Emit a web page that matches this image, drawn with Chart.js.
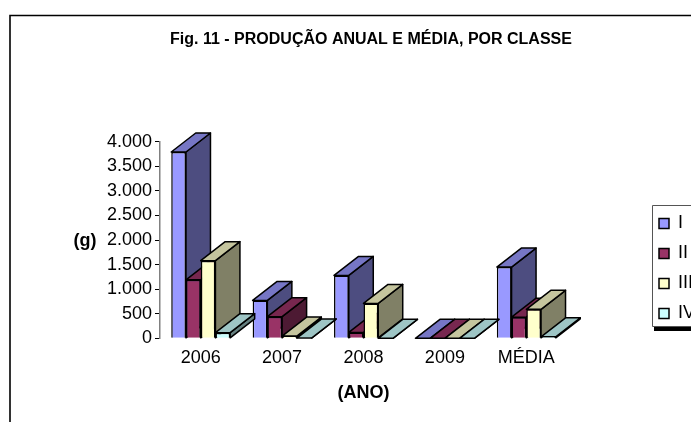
<!DOCTYPE html>
<html><head><meta charset="utf-8">
<style>html,body{margin:0;padding:0;background:#fff;overflow:hidden}canvas{display:block}</style>
<script src="https://cdn.jsdelivr.net/npm/chart.js@4"></script>
</head><body><canvas id="c" width="691" height="422"></canvas>
<script>
const categories = ['2006','2007','2008','2009','MÉDIA'];
const classI   = [3790, 770, 1280, 0, 1450];
const classII  = [1190, 440, 120, 0, 430];
const classIII = [1580, 45, 710, 0, 590];
const classIV  = [115, 5, 0, 0, 30];
const seriesNames = ['I','II','III','IV'];
const frontColors = ['#9999FF','#993366','#FFFFCC','#CCFFFF'];
const topColors   = ['#7676C5','#77274F','#C5C59E','#9EC5C5'];
const sideColors  = ['#4D4D80','#4D1A33','#808066','#668080'];
const titleText = 'Fig. 11 - PRODUÇÃO ANUAL E MÉDIA, POR CLASSE';
const xTitleText = '(ANO)';
const yTitleText = '(g)';
const FONT = '"Liberation Sans", Arial, sans-serif';
const DX = 24.5, DY = 19;

const poly = (ctx, pts, fill) => {
  ctx.beginPath();
  pts.forEach((p,i)=> i?ctx.lineTo(p[0],p[1]):ctx.moveTo(p[0],p[1]));
  ctx.closePath();
  ctx.fillStyle = fill; ctx.fill();
  ctx.strokeStyle = '#000'; ctx.lineWidth = 1.5; ctx.lineJoin='round'; ctx.stroke();
};

const chrome = {
  id:'chrome',
  afterLayout(chart){
    const t = chart.titleBlock;
    t.left = 51; t.right = 691;
    const l = chart.legend;
    l.left = 647; l.right = 700; l.top = 202.5; l.bottom = 350;
  },
  beforeDraw(chart){
    const ctx = chart.ctx;
    ctx.save();
    ctx.fillStyle='#fff'; ctx.fillRect(0,0,691,422);
    ctx.strokeStyle='#000'; ctx.lineWidth=1.6;
    ctx.beginPath(); ctx.moveTo(10,422); ctx.lineTo(10,15.5); ctx.lineTo(691,15.5); ctx.stroke();
    ctx.fillStyle='#000'; ctx.fillRect(654,327,37,4);
    ctx.strokeStyle='#555'; ctx.lineWidth=1;
    ctx.fillStyle='#fff'; ctx.fillRect(652,205.5,39,121);
    ctx.beginPath(); ctx.moveTo(691,205.5); ctx.lineTo(652.5,205.5); ctx.lineTo(652.5,326.5); ctx.lineTo(691,326.5); ctx.stroke();
    ctx.fillStyle='#000'; ctx.font='bold 18px '+FONT; ctx.textAlign='center'; ctx.textBaseline='middle';
    ctx.fillText(yTitleText,85,241);
    ctx.restore();
  },
  beforeDatasetsDraw(chart){
    const ctx = chart.ctx;
    chart.data.datasets.forEach((ds,index)=>{
      const meta = chart.getDatasetMeta(index);
      ctx.save();
      meta.data.forEach(b=>{
        const {x,y,base,width} = b.getProps(['x','y','base','width'],true);
        const L=x-width/2, R=x+width/2;
        poly(ctx,[[R,y],[R+DX,y-DY],[R+DX,base-DY],[R,base]],sideColors[index]);
        poly(ctx,[[L,y],[L+DX,y-DY],[R+DX,y-DY],[R,y]],topColors[index]);
        b.draw(ctx);
      });
      ctx.restore();
    });
    return false;
  }
};

new Chart(document.getElementById('c'),{
  type:'bar',
  data:{labels:categories,datasets:[classI,classII,classIII,classIV].map((d,i)=>({
    label:seriesNames[i],data:d,
    backgroundColor:frontColors[i],borderColor:'#000',borderWidth:1.5,
    categoryPercentage:0.724,barPercentage:1
  }))},
  plugins:[chrome],
  options:{
    responsive:false,animation:false,devicePixelRatio:1,
    layout:{padding:{left:0,right:66,top:0,bottom:0}},
    plugins:{
      tooltip:{enabled:false},
      title:{display:true,text:titleText,color:'#000',font:{family:FONT,size:16,weight:'bold'},padding:{top:30,bottom:92.5}},
      legend:{position:'right',align:'start',labels:{font:{family:FONT,size:18},color:'#000',boxWidth:10,boxHeight:10,padding:12}}
    },
    scales:{
      x:{grid:{display:false},border:{display:false},
        ticks:{color:'#000',font:{family:FONT,size:18},padding:1,maxRotation:0},
        title:{display:true,text:xTitleText,color:'#000',font:{family:FONT,size:18,weight:'bold'},padding:{top:12,bottom:18.5}}},
      y:{min:0,max:4000,
        grid:{drawOnChartArea:false,drawTicks:true,tickLength:5,color:'#000'},
        border:{display:true,color:'#808080',width:1.5},
        afterFit(s){s.width=160;},
        ticks:{stepSize:500,autoSkip:false,color:'#000',padding:3,font:{family:FONT,size:18},
          callback:v=>String(v).replace(/\B(?=(\d{3})+$)/g,'.')}}
    }
  }
});
</script></body></html>
